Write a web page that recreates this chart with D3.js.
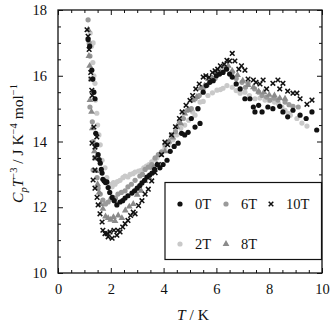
<!DOCTYPE html>
<html>
<head>
<meta charset="utf-8">
<script src="https://cdn.jsdelivr.net/npm/d3@7"></script>
<style>
  html, body { margin: 0; padding: 0; background: #fff; }
  svg { display: block; }
  svg text { font-family: "Liberation Serif", "DejaVu Serif", serif !important; }
</style>
</head>
<body>
<svg id="chart" width="330" height="326"></svg>
<script>
// Specific heat divided by T^3 versus temperature, for several magnetic fields.
// Each series: [T (K), CpT^-3 (J K^-4 mol^-1)]
const xTicks = [0, 2, 4, 6, 8, 10];
const yTicks = [10, 12, 14, 16, 18];
const fieldLabels = ["0T", "2T", "6T", "8T", "10T"];

const field0T = [
  [1.14,17.1],[1.2,16.9],[1.28,16.17],[1.32,15.9],[1.36,15.5],[1.4,15.3],[1.43,14.25],[1.47,13.9],
  [1.52,13.6],[1.56,13.45],[1.6,13.34],[1.64,13.15],[1.67,13.04],[1.7,12.85],[1.75,12.8],[1.8,12.75],
  [1.85,12.77],[1.9,12.6],[1.96,12.45],[2.05,12.3],[2.13,12.2],[2.23,12.07],[2.35,12.16],[2.45,12.2],
  [2.54,12.28],[2.65,12.35],[2.8,12.43],[2.9,12.5],[3.0,12.58],[3.1,12.66],[3.18,12.74],[3.28,12.82],
  [3.37,12.92],[3.47,12.98],[3.56,13.04],[3.66,13.15],[3.76,13.3],[3.86,13.2],[3.98,13.3],[4.13,13.43],
  [4.25,13.7],[4.4,13.85],[4.55,13.95],[4.68,14.25],[4.8,14.2],[4.93,14.28],[5.05,14.7],[5.19,14.44],
  [5.3,15.0],[5.38,14.55],[5.5,15.5],[5.62,15.7],[5.75,15.8],[5.88,15.85],[6.0,16.0],[6.12,16.05],
  [6.25,16.1],[6.38,16.2],[6.5,16.05],[6.6,15.96],[6.75,15.75],[6.9,15.6],[7.08,15.3],[7.27,15.3],
  [7.4,15.05],[7.46,14.9],[7.6,15.1],[7.73,14.9],[7.95,15.05],[8.14,15.0],[8.4,15.07],[8.52,14.9],
  [8.7,14.75],[8.9,14.95],[9.17,14.8],[9.4,14.7],[9.62,14.9],[9.8,14.35]
];

const field2T = [
  [1.22,17.3],[1.27,16.9],[1.33,17.0],[1.32,16.4],[1.36,16.0],[1.4,15.77],[1.42,15.26],[1.47,14.86],
  [1.5,14.5],[1.55,14.2],[1.6,13.9],[1.67,13.43],[1.78,13.2],[1.85,12.9],[1.95,12.7],[2.05,12.62],
  [2.1,12.75],[2.16,12.7],[2.25,12.78],[2.35,12.82],[2.46,12.9],[2.54,12.95],[2.65,12.92],[2.73,13.0],
  [2.84,13.02],[2.92,13.07],[3.05,13.1],[3.15,13.12],[3.25,13.2],[3.35,13.25],[3.45,13.3],[3.55,13.38],
  [3.65,13.45],[3.75,13.5],[3.85,13.62],[3.95,13.7],[4.05,13.8],[4.2,13.95],[4.35,14.05],[4.5,14.2],
  [4.65,14.4],[4.8,14.5],[4.95,14.65],[5.1,14.9],[5.19,14.8],[5.3,15.0],[5.38,15.2],[5.5,15.22],
  [5.68,15.4],[5.85,15.48],[6.02,15.56],[6.15,15.58],[6.25,15.62],[6.4,15.7],[6.6,15.65],[6.75,15.55],
  [6.9,15.47],[7.08,15.5],[7.25,15.4],[7.46,15.3],[7.65,15.32],[7.84,15.26],[8.0,15.25],[8.2,15.2],
  [8.35,15.15],[8.48,15.05],[8.6,14.95],[8.72,14.86],[8.8,14.8],[9.05,14.7],[9.24,14.56],[9.43,14.47]
];

const field6T = [
  [1.14,17.7],[1.18,17.0],[1.21,16.6],[1.25,15.9],[1.21,15.05],[1.3,14.6],[1.33,14.0],[1.33,13.13],
  [1.4,13.5],[1.48,12.9],[1.52,12.58],[1.6,12.4],[1.7,12.22],[1.8,12.1],[1.9,12.16],[2.0,12.25],
  [2.08,12.3],[2.18,12.28],[2.27,12.4],[2.4,12.45],[2.54,12.5],[2.65,12.62],[2.78,12.7],[2.92,12.82],
  [3.1,12.95],[3.2,13.0],[3.3,13.15],[3.42,13.22],[3.55,13.3],[3.68,13.5],[3.8,13.6],[3.92,13.68],
  [4.05,13.9],[4.18,14.0],[4.3,14.2],[4.45,14.3],[4.6,14.6],[4.75,14.7],[4.9,14.95],[5.05,15.0],
  [5.2,15.3],[5.35,15.4],[5.5,15.62],[5.65,15.72],[5.8,15.9],[5.95,15.92],[6.1,16.1],[6.25,16.12],
  [6.4,16.22],[6.6,16.1],[6.75,15.92],[6.97,15.8],[7.1,15.65],[7.2,15.77],[7.45,15.6],[7.6,15.5],
  [7.73,15.4],[7.9,15.35],[8.03,15.26],[8.18,15.32],[8.33,15.26],[8.6,15.2],[8.75,15.12],[8.9,15.07],[9.1,15.05]
];

const field8T = [
  [1.15,17.4],[1.17,16.6],[1.2,16.3],[1.21,15.26],[1.27,14.9],[1.3,14.4],[1.38,13.7],[1.45,13.1],
  [1.5,12.7],[1.56,12.45],[1.62,12.1],[1.7,11.95],[1.8,11.72],[1.9,11.67],[2.0,11.62],[2.1,11.7],
  [2.16,11.58],[2.28,11.75],[2.42,11.67],[2.55,11.9],[2.7,12.02],[2.85,12.1],[3.0,12.38],[3.15,12.5],
  [3.3,12.8],[3.45,12.9],[3.6,13.2],[3.75,13.3],[3.9,13.6],[4.05,13.7],[4.2,14.0],[4.35,14.12],
  [4.5,14.45],[4.65,14.55],[4.8,14.85],[4.95,14.95],[5.1,15.25],[5.25,15.35],[5.4,15.62],[5.55,15.7],
  [5.7,15.9],[5.85,15.92],[6.0,16.1],[6.15,16.12],[6.3,16.28],[6.45,16.3],[6.6,16.15],[6.8,16.02],
  [7.0,15.85],[7.2,15.72],[7.4,15.65],[7.6,15.52],[7.8,15.5],[8.0,15.42],[8.2,15.4],[8.4,15.32],[8.6,15.3]
];

const field10T = [
  [1.1,17.4],[1.14,17.2],[1.18,16.8],[1.24,16.1],[1.25,15.9],[1.28,15.56],[1.3,15.4],[1.36,14.44],
  [1.47,14.14],[1.29,13.95],[1.4,13.83],[1.4,13.5],[1.4,13.13],[1.33,12.83],[1.4,12.58],[1.48,12.3],
  [1.52,12.07],[1.59,11.8],[1.67,11.55],[1.7,11.3],[1.78,11.2],[1.86,11.2],[1.9,11.1],[1.97,11.25],
  [2.05,11.06],[2.12,11.3],[2.23,11.15],[2.27,11.3],[2.35,11.25],[2.45,11.4],[2.54,11.5],[2.65,11.6],
  [2.75,11.75],[2.85,11.85],[2.92,11.8],[3.05,12.05],[3.18,12.2],[3.3,12.4],[3.42,12.55],[3.55,12.8],
  [3.68,13.05],[3.8,13.3],[3.92,13.6],[4.05,13.98],[4.15,13.9],[4.3,14.2],[4.45,14.45],[4.6,14.7],
  [4.7,14.9],[4.85,15.1],[5.0,15.25],[5.1,15.4],[5.22,15.6],[5.35,15.75],[5.5,15.96],[5.6,16.0],
  [5.72,15.95],[5.85,16.1],[5.95,16.15],[6.05,16.2],[6.15,16.3],[6.3,16.35],[6.4,16.47],[6.5,16.45],
  [6.6,16.68],[6.7,16.45],[6.85,16.2],[6.95,16.3],[7.08,16.17],[7.2,15.9],[7.4,15.87],[7.5,15.8],
  [7.65,15.75],[7.77,15.87],[7.9,15.6],[8.14,15.77],[8.33,15.87],[8.4,15.6],[8.52,15.77],[8.7,15.53],
  [8.9,15.47],[9.05,15.47],[9.17,15.3],[9.43,15.13],[9.62,15.26]
];

const svg = d3.select("#chart");
const x = d3.scaleLinear().domain([0, 10]).range([58, 322]);
const y = d3.scaleLinear().domain([10, 18]).range([273, 10]);

const minorX = d3.range(0, 10.01, 0.5).filter(v => !xTicks.includes(v));
const minorY = d3.range(10, 18.01, 0.5).filter(v => !yTicks.includes(v));

// Frame
svg.append("rect")
  .attr("x", x(0)).attr("y", y(18))
  .attr("width", x(10) - x(0)).attr("height", y(10) - y(18))
  .attr("fill", "none").attr("stroke", "#111").attr("stroke-width", 1.3);

// Inward ticks on all four sides
function ticks(axisFn, scale, values, size, transform, labels) {
  const g = svg.append("g").attr("transform", transform)
    .call(axisFn(scale).tickValues(values).tickSize(-size).tickPadding(labels ? 11 : 0)
      .tickFormat(labels ? d3.format("d") : ""));
  g.attr("font-family", null).attr("font-size", 14.5);
  g.select(".domain").remove();
  g.selectAll(".tick line").attr("stroke", "#111").attr("stroke-width", 1);
  g.selectAll(".tick text").attr("fill", "#111");
  return g;
}
ticks(d3.axisBottom, x, xTicks, 5, `translate(0,${y(10)})`, true);
ticks(d3.axisBottom, x, minorX, 3, `translate(0,${y(10)})`, false);
ticks(d3.axisTop, x, xTicks, 5, `translate(0,${y(18)})`, false);
ticks(d3.axisTop, x, minorX, 3, `translate(0,${y(18)})`, false);
ticks(d3.axisLeft, y, yTicks, 5, `translate(${x(0)},0)`, true);
ticks(d3.axisLeft, y, minorY, 3, `translate(${x(0)},0)`, false);
ticks(d3.axisRight, y, yTicks, 5, `translate(${x(10)},0)`, false);
ticks(d3.axisRight, y, minorY, 3, `translate(${x(10)},0)`, false);

// Axis titles
const xt = svg.append("text").attr("x", 193).attr("y", 320)
  .attr("text-anchor", "middle").attr("font-size", 15.5).attr("fill", "#111");
xt.append("tspan").attr("font-style", "italic").text("T");
xt.append("tspan").text(" / K");

const yt = svg.append("text")
  .attr("transform", `translate(23,${(y(10) + y(18)) / 2 + 2}) rotate(-90)`)
  .attr("text-anchor", "middle").attr("font-size", 15.5).attr("fill", "#111");
yt.append("tspan").attr("font-style", "italic").text("C");
yt.append("tspan").attr("font-style", "italic").attr("font-size", 10.5).attr("dy", 4).text("p");
yt.append("tspan").attr("font-style", "italic").attr("dy", -4).text("T");
yt.append("tspan").attr("font-size", 10.5).attr("dy", -6).text("\u22123");
yt.append("tspan").attr("dy", 6).text(" / J K");
yt.append("tspan").attr("font-size", 10.5).attr("dy", -6).text("\u22124");
yt.append("tspan").attr("dy", 6).text(" mol");
yt.append("tspan").attr("font-size", 10.5).attr("dy", -6).text("\u22121");

// Marker styles per field
const styles = {
  "0T": { shape: "circle", color: "#111" },
  "2T": { shape: "circle", color: "#c9c9c9" },
  "6T": { shape: "circle", color: "#9a9a9a" },
  "8T": { shape: "triangle", color: "#8a8a8a" },
  "10T": { shape: "cross", color: "#111" }
};
const seriesData = { "0T": field0T, "2T": field2T, "6T": field6T, "8T": field8T, "10T": field10T };

function drawMarker(g, shape, color, cx, cy) {
  if (shape === "circle") {
    g.append("circle").attr("cx", cx).attr("cy", cy).attr("r", 2.6).attr("fill", color);
  } else if (shape === "triangle") {
    g.append("path").attr("d", d3.symbol(d3.symbolTriangle, 20)())
      .attr("transform", `translate(${cx},${cy})`).attr("fill", color);
  } else {
    const s = 2.3;
    g.append("path")
      .attr("d", `M${cx - s},${cy - s}L${cx + s},${cy + s}M${cx - s},${cy + s}L${cx + s},${cy - s}`)
      .attr("stroke", color).attr("stroke-width", 1.5).attr("fill", "none");
  }
}

const plot = svg.append("g");
["2T", "6T", "8T", "0T", "10T"].forEach(key => {
  const g = plot.append("g").attr("class", "series-" + key);
  seriesData[key].forEach(d => drawMarker(g, styles[key].shape, styles[key].color, x(d[0]), y(d[1])));
});

// Legend
const lg = svg.append("g");
lg.append("rect").attr("x", 165).attr("y", 182.5).attr("width", 156.5).attr("height", 77)
  .attr("fill", "#fff").attr("stroke", "#111").attr("stroke-width", 1.2);
const legendPos = {
  "0T": [180, 204], "6T": [226, 204], "10T": [271, 204],
  "2T": [180, 244], "8T": [226, 244]
};
fieldLabels.forEach(key => {
  const [mx, my] = legendPos[key];
  drawMarker(lg, styles[key].shape, styles[key].color, mx, my);
  lg.append("text").attr("x", mx + 15).attr("y", my + 5).attr("font-size", 14.5)
    .attr("fill", "#111").text(key);
});
</script>
</body>
</html>
